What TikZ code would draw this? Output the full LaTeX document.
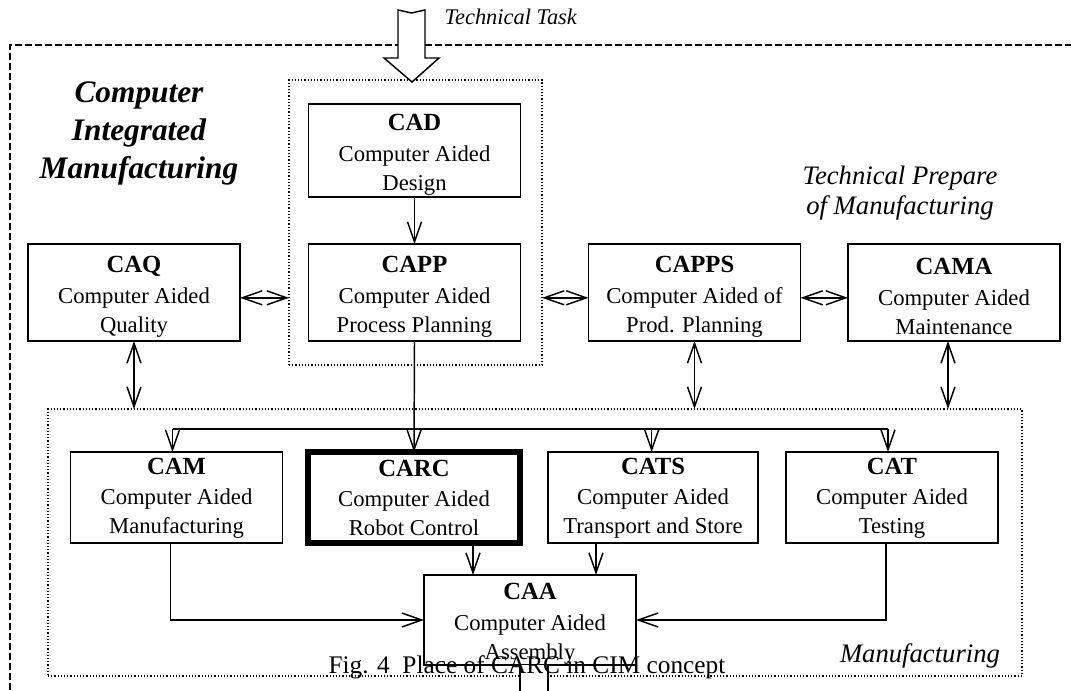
\documentclass[tikz,border=0pt]{standalone}
\usepackage{fontspec}
\setmainfont{Liberation Serif}
\usetikzlibrary{arrows.meta,calc}
\begin{document}
\begin{tikzpicture}[x=0.75pt,y=-0.75pt,
  box/.style={draw,line width=1.2pt,inner sep=0pt,outer sep=0pt,align=center,
    minimum width=159pt,font=\fontsize{17}{21.75}\selectfont},
  row/.style={minimum height=72.75pt},
  mrow/.style={minimum height=68.25pt},
  grp/.style={draw,line width=0.9pt,dash pattern=on 0.9pt off 1.5pt,inner sep=0pt,outer sep=0pt},
  ln/.style={line width=1.1pt},
  arr/.style={line width=1.1pt,-{Straight Barb[length=15pt,width=10.5pt,line width=1.1pt]}},
  darr/.style={line width=1.1pt,{Straight Barb[length=15pt,width=10.5pt,line width=1.1pt]}-{Straight Barb[length=15pt,width=10.5pt,line width=1.1pt]}},
  outer/.style={line width=1.1pt,dash pattern=on 5.2pt off 2.3pt},
]
\newcommand{\ttl}[1]{{\fontsize{18.5}{21.75}\selectfont\bfseries\rule{0pt}{18pt}#1}\\[1.5pt]}
\newcommand{\ttm}[1]{{\fontsize{18.5}{21.75}\selectfont\bfseries\rule{0pt}{13pt}#1}\\[0.5pt]}
\useasboundingbox (0,0) rectangle (1071,691);

% outer dashed frame (cropped)
\draw[outer] (10,700) -- (10,45) -- (1085,45);

% groups
\node[grp,minimum width=189.75pt,minimum height=213.75pt] (G) at (415.5,222.5) {};
\node[grp,minimum width=730.5pt,minimum height=200.25pt] (M) at (535,542.5) {};

% input hollow arrow
\filldraw[fill=white,line width=1.1pt,line join=miter] (398,10) -- (411.5,13) -- (425,10) -- (425,58) -- (439,58) -- (412,82) -- (384,58) -- (398,58) -- cycle;
\node[anchor=west,font=\fontsize{16.8}{20}\selectfont\itshape] (tt) at (440,17) {Technical Task};

% boxes
\node[box,minimum height=69.75pt] (CAD) at (414.5,150.5) {\ttl{CAD}Computer Aided\\Design};
\node[box,row] (CAQ) at (134,292.5) {\ttl{CAQ}Computer Aided\\Quality};
\node[box,row] (CAPP) at (414.5,292.5) {\ttl{CAPP}Computer Aided\\Process Planning};
\node[box,row] (CAPPS) at (694.5,292.5) {\ttl{CAPPS}Computer Aided of\\Prod. Planning};
\node[box,row] (CAMA) at (954,292.5) {\ttl{CAMA}Computer Aided\\Maintenance};
\node[box,mrow] (CAM) at (176.5,497.5) {\ttm{CAM}Computer Aided\\Manufacturing};
\node[box,mrow,line width=3.8pt] (CARC) at (414,497.5) {\ttm{CARC}Computer Aided\\Robot Control};
\node[box,mrow,minimum width=157.5pt] (CATS) at (653,497.5) {\ttm{CATS}Computer Aided\\Transport and Store};
\node[box,mrow] (CAT) at (892,497.5) {\ttm{CAT}Computer Aided\\Testing};
\node[box,minimum height=67.5pt] (CAA) at (530,620) {\ttl{CAA}Computer Aided\\Assembly};

% labels
\node[align=center,font=\fontsize{23.5}{28.5}\selectfont\bfseries\itshape] (cim) at (139,133) {Computer\\Integrated\\Manufacturing};
\node[align=center,font=\fontsize{20}{22.5}\selectfont\itshape] (tp) at (900,193) {Technical Prepare\\of Manufacturing};
\node[font=\fontsize{20}{22}\selectfont\itshape] (ml) at (920,656) {Manufacturing};

% connectors
\draw[arr] (CAD.south) -- (CAPP.north);
\draw[darr] ([yshift=-4pt]CAQ.east) -- ([yshift=-4pt]CAQ.east -| G.west);
\draw[darr] ([yshift=-4pt]CAPPS.west -| G.east) -- ([yshift=-4pt]CAPPS.west);
\draw[darr] ([yshift=-4pt]CAPPS.east) -- ([yshift=-4pt]CAMA.west);
\draw[darr] (CAQ.south) -- (CAQ.south |- M.north);
\draw[darr] (CAPPS.south) -- (CAPPS.south |- M.north);
\draw[darr] ([xshift=-4.5pt]CAMA.south) -- ([xshift=-4.5pt]CAMA.south |- M.north);

\coordinate (bus) at (0,429);
\draw[arr] (CAPP.south) -- (CARC.north);
\draw[ln] ([xshift=-3pt]CAM.north |- bus) -- ([xshift=-3pt]CAT.north |- bus);
\draw[arr] ([xshift=-3pt]CAM.north |- bus) -- ([xshift=-3pt]CAM.north);
\draw[arr] ([xshift=-1pt]CATS.north |- bus) -- ([xshift=-1pt]CATS.north);
\draw[arr] ([xshift=-3pt]CAT.north |- bus) -- ([xshift=-3pt]CAT.north);

\draw[arr] ([xshift=-4.5pt]CAM.south) |- (CAA.west);
\draw[arr] ([xshift=-4.5pt]CAT.south) |- (CAA.east);
\draw[arr] ([xshift=-42.75pt]CAA.north |- CARC.south) -- ([xshift=-42.75pt]CAA.north);
\draw[arr] ([xshift=49.5pt]CAA.north |- CATS.south) -- ([xshift=49.5pt]CAA.north);

% output hollow arrow (cropped)
\fill[white] ([xshift=-7.5pt]CAA.south) rectangle ([xshift=13.5pt,yshift=-30pt]CAA.south);
\draw[ln] ([xshift=-7.5pt]CAA.south) -- ++(0,40);
\draw[ln] ([xshift=13.5pt]CAA.south) -- ++(0,40);

% caption
\node[font=\fontsize{19}{22}\selectfont] (cap) at (527,667) {Fig. 4\ \ Place of CARC in CIM concept};
\end{tikzpicture}
\end{document}
